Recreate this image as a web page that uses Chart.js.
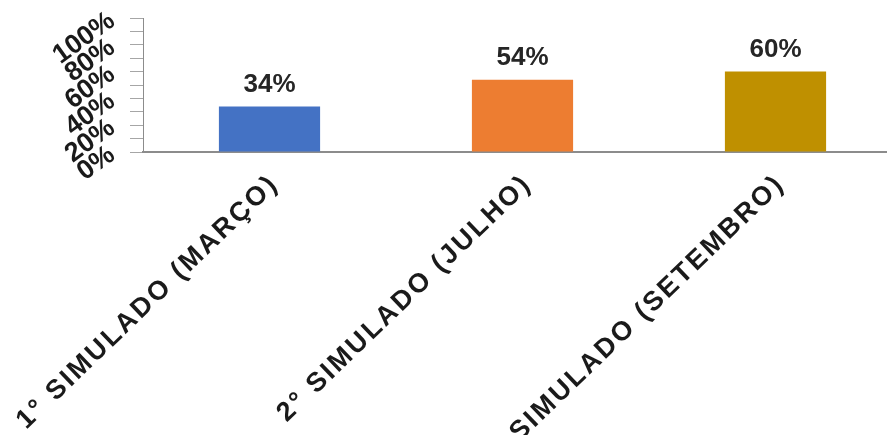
<!DOCTYPE html>
<html>
<head>
<meta charset="utf-8">
<script src="https://cdn.jsdelivr.net/npm/chart.js@4.4.0/dist/chart.umd.min.js"></script>
<style>
  html, body { margin: 0; padding: 0; background: #fff; overflow: hidden; }
  .chart-box { width: 902px; height: 435px; }
</style>
</head>
<body>
<div class="chart-box"><canvas id="simulados"></canvas></div>
<script>
// resultados dos simulados
const categorias = ['1° SIMULADO (MARÇO)', '2° SIMULADO (JULHO)', '3° SIMULADO (SETEMBRO)'];
const acertos = [34, 54, 60];
const cores = ['#4472C4', '#ED7D31', '#BF9000'];
const marcasY = [0, 20, 40, 60, 80, 100];

const fonte = '"Liberation Sans", Arial, sans-serif';

// escreve o valor em cima de cada barra
const rotulosValor = {
  id: 'rotulosValor',
  afterDatasetsDraw(chart) {
    const ctx = chart.ctx;
    const meta = chart.getDatasetMeta(0);
    ctx.save();
    ctx.font = 'bold 26px ' + fonte;
    ctx.fillStyle = '#262626';
    ctx.textAlign = 'center';
    ctx.textBaseline = 'bottom';
    meta.data.forEach((bar, i) => {
      ctx.fillText(acertos[i] + '%', bar.x, bar.y - 9);
    });
    ctx.restore();
  }
};

// nomes das categorias inclinados, com letras espaçadas
const rotulosEixo = {
  id: 'rotulosEixo',
  afterDraw(chart) {
    const ctx = chart.ctx;
    const escala = chart.scales.x;
    ctx.save();
    ctx.font = 'bold 27px ' + fonte;
    ctx.letterSpacing = '2.5px';
    ctx.fillStyle = '#1a1a1a';
    ctx.textAlign = 'right';
    ctx.textBaseline = 'middle';
    categorias.forEach((nome, i) => {
      const x = escala.getPixelForTick(i);
      ctx.save();
      ctx.translate(x + 5, escala.top + 28);
      ctx.rotate(-44 * Math.PI / 180);
      ctx.fillText(nome, 0, 0);
      ctx.restore();
    });
    ctx.restore();
  }
};

const context = document.getElementById('simulados').getContext('2d');
let grafico = new Chart(context, {
  type: 'bar',
  data: {
    labels: categorias,
    datasets: [{
      data: acertos,
      backgroundColor: cores,
      categoryPercentage: 1,
      barPercentage: 0.4
    }]
  },
  options: {
    responsive: true,
    maintainAspectRatio: false,
    animation: false,
    layout: { padding: { top: 18, left: 0, right: 0, bottom: 0 } },
    plugins: {
      legend: { display: false },
      tooltip: { enabled: false }
    },
    scales: {
      x: {
        grid: { display: false, drawTicks: false },
        border: { color: '#8c8c8c', width: 2 },
        ticks: { display: false },
        afterFit(scale) {
          scale.height = 283;
          scale.paddingLeft = 0;
          scale.paddingRight = 0;
        }
      },
      y: {
        min: 0,
        max: 100,
        grid: { drawOnChartArea: false, drawTicks: true, tickLength: 13, color: '#a6a6a6' },
        border: { color: '#8c8c8c', width: 1 },
        ticks: {
          stepSize: 10,
          autoSkip: false,
          minRotation: 36,
          maxRotation: 36,
          padding: 18,
          color: '#1a1a1a',
          font: { family: fonte, size: 27, weight: 'bold' },
          callback: (v) => marcasY.includes(v) ? v + '%' : ''
        },
        afterFit(scale) {
          scale.width = 143;
          scale.paddingTop = 0;
          scale.paddingBottom = 0;
        }
      }
    }
  },
  plugins: [rotulosValor, rotulosEixo]
});
</script>
</body>
</html>
